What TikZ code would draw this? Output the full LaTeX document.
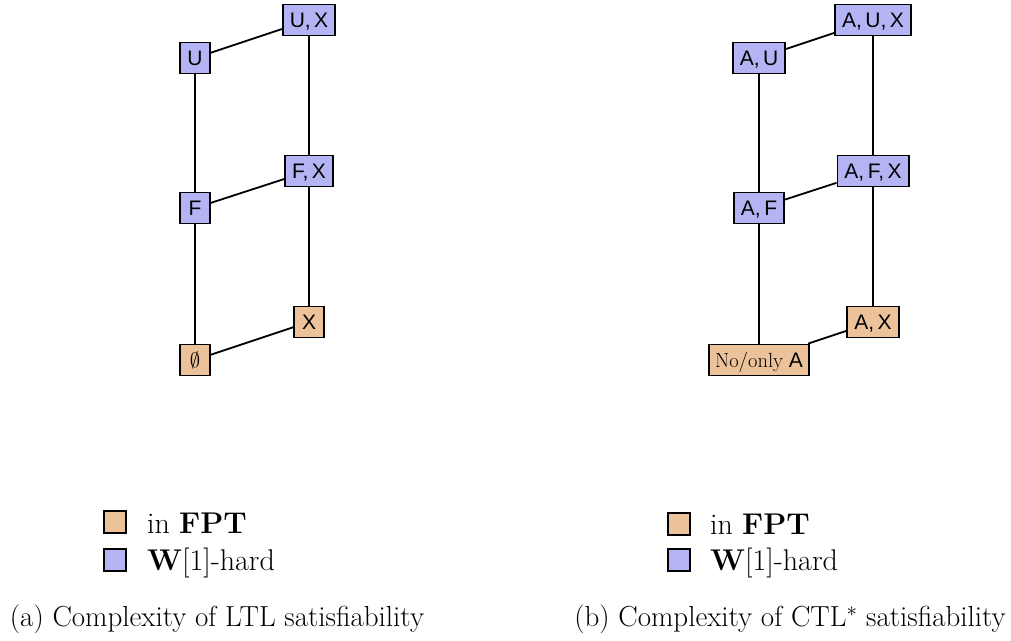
\documentclass[tikz,border=0pt]{standalone}
\usepackage{fontspec}
\newfontfamily\nodefont{Liberation Sans}
\definecolor{fptcol}{RGB}{235,194,153}
\definecolor{hardcol}{RGB}{180,180,245}
\begin{document}
\begin{tikzpicture}[x=1pt,y=-1pt,
  box/.style={draw, line width=1.8pt, rectangle, minimum height=30pt,
    minimum width=30pt, inner xsep=7pt, inner ysep=8pt,
    text height=15pt, text depth=0pt,
    font=\nodefont\fontsize{21}{25}\selectfont},
  fpt/.style={box, fill=fptcol},
  hard/.style={box, fill=hardcol},
  link/.style={line width=1.8pt},
  keybox/.style={draw, line width=1.8pt, minimum size=22pt, inner sep=0pt},
  keytext/.style={anchor=base west, inner sep=0pt, font=\fontsize{30}{35}\selectfont},
  caption/.style={anchor=base, inner sep=0pt, font=\fontsize{29}{34}\selectfont}]
\useasboundingbox (0,0) rectangle (1011,640);

% (a) LTL lattice
\node[hard] (lU)  at (195,58)  {U};
\node[hard] (lUX) at (309,20)  {U,\,X};
\node[hard] (lF)  at (195,208) {F};
\node[hard] (lFX) at (309,171) {F,\,X};
\node[fpt]  (l0)  at (195,360) {$\emptyset$};
\node[fpt]  (lX)  at (309,322) {X};
\draw[link] (lU) -- (lUX);
\draw[link] (lF) -- (lFX);
\draw[link] (l0) -- (lX);
\draw[link] (lU) -- (lF);
\draw[link] (lF) -- (l0);
\draw[link] (lUX) -- (lFX);
\draw[link] (lFX) -- (lX);

% (b) CTL* lattice
\node[hard] (rU)  at (759,58)  {A,\,U};
\node[hard] (rUX) at (873,20)  {A,\,U,\,X};
\node[hard] (rF)  at (759,208) {A,\,F};
\node[hard] (rFX) at (873,171) {A,\,F,\,X};
\node[fpt, inner xsep=6pt] (r0) at (759,360) {{\rmfamily\fontsize{20.5}{24}\selectfont No/only} A};
\node[fpt]  (rX)  at (873,322) {A,\,X};
\draw[link] (rU) -- (rUX);
\draw[link] (rF) -- (rFX);
\draw[link] (r0) -- (rX);
\draw[link] (rU) -- (rF);
\draw[link] (rF) -- (r0);
\draw[link] (rUX) -- (rFX);
\draw[link] (rFX) -- (rX);

% legends
\node[keybox, fill=fptcol]  (lk1) at (115,522) {};
\node[keybox, fill=hardcol] (lk2) at (115,560) {};
\node[keytext] (lt1) at (147,533) {in \textbf{FPT}};
\node[keytext] (lt2) at (147,570) {\textbf{W}[1]-hard};
\node[keybox, fill=fptcol]  (rk1) at (679,524) {};
\node[keybox, fill=hardcol] (rk2) at (679,560) {};
\node[keytext] (rt1) at (710,534) {in \textbf{FPT}};
\node[keytext] (rt2) at (710,570) {\textbf{W}[1]-hard};

% captions
\node[caption] (capa) at (217,626) {(a) Complexity of LTL satisfiability};
\node[caption] (capb) at (790,626) {(b) Complexity of CTL$^*$ satisfiability};
\end{tikzpicture}
\end{document}
